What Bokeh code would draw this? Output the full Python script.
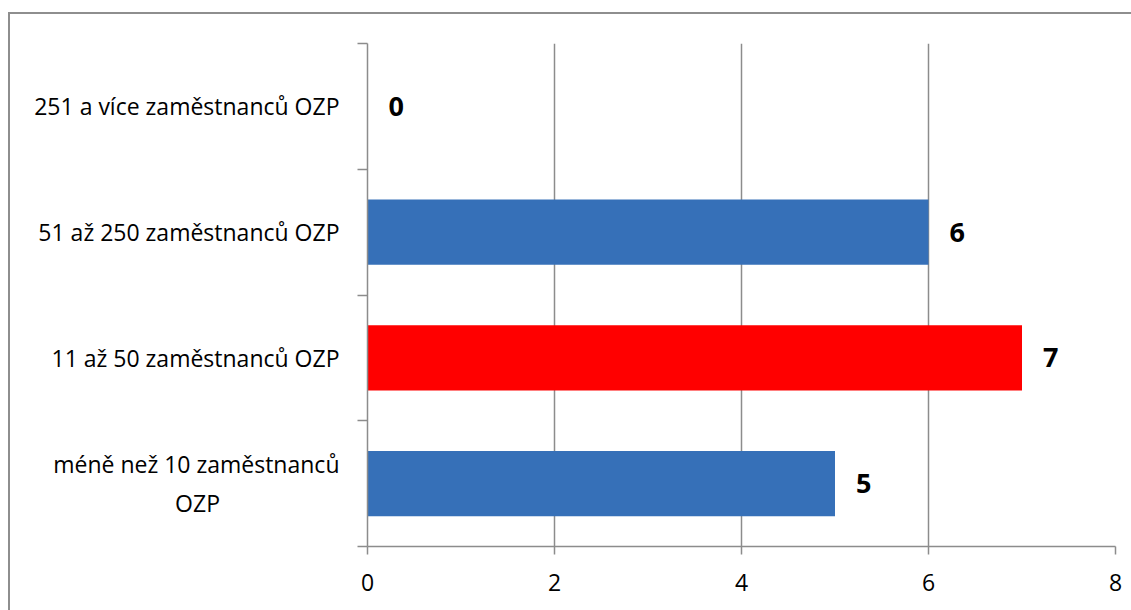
from bokeh.plotting import figure
from bokeh.models import ColumnDataSource, Range1d, FixedTicker, LabelSet
from bokeh.core.properties import value
from bokeh.embed import file_html
from bokeh.resources import INLINE

categories = ["méně než 10 zaměstnanců\nOZP", "11 až 50 zaměstnanců OZP",
              "51 až 250 zaměstnanců OZP", "251 a více zaměstnanců OZP"]
values = [5, 7, 6, 0]
bar_colors = ["#3670b8", "#ff0000", "#3670b8", "#3670b8"]
x_ticks = [0, 2, 4, 6, 8]

positions = [i + 0.5 for i in range(len(categories))]
boundaries = [float(i) for i in range(len(categories) + 1)]
src = ColumnDataSource(dict(y=positions, v=values, c=bar_colors,
                            lbl=[str(v) for v in values]))


def centered(label):
    # centre shorter lines of a multi-line label under the longest one
    lines = label.split("\n")
    longest = max(len(l) for l in lines)
    return "\n".join(l + "\u00a0" * int(round((longest - len(l)) * 1.02)) if len(l) < longest else l
                     for l in lines)


FONT = "Open Sans"
GRAY = "#8c8c8c"

p = figure(width=1131, height=610, x_range=Range1d(0, 8), y_range=Range1d(0, 4),
           output_backend="svg", toolbar_location=None,
           min_border_left=367, min_border_right=16, min_border_top=43,
           min_border_bottom=64)
p.styles = {"box-shadow": "inset 0 12px 0 0 #ffffff, inset 8px 0 0 0 #ffffff, "
                          "inset 0 14px 0 0 #8e8e8e, inset 10px 0 0 0 #8e8e8e"}
p.outline_line_color = None
p.background_fill_color = "white"
p.border_fill_color = None

p.hbar(y="y", right="v", left=0, height=0.52, fill_color="c", line_color=None, source=src)

labels = LabelSet(x="v", y="y", text="lbl", source=src, x_offset=21, text_align="left",
                  text_baseline="middle", text_font=value(FONT), text_font_size="27px",
                  text_font_style="bold", text_color="black")
p.add_layout(labels)

# x axis
p.xaxis.ticker = FixedTicker(ticks=x_ticks)
p.xaxis.axis_line_color = GRAY
p.xaxis.axis_line_width = 1.5
p.xaxis.major_tick_line_color = GRAY
p.xaxis.major_tick_line_width = 1.5
p.xaxis.major_tick_in = 0
p.xaxis.major_tick_out = 8
p.xaxis.minor_tick_line_color = None
p.xaxis.major_label_text_font = FONT
p.xaxis.major_label_text_font_size = "23px"
p.xaxis.major_label_text_color = "black"
p.xaxis.major_label_standoff = 19

# y axis: labels at category centres, ticks at category boundaries
p.yaxis.ticker = FixedTicker(ticks=positions, minor_ticks=boundaries)
p.yaxis.major_label_overrides = {pos: centered(cat) for pos, cat in zip(positions, categories)}
p.yaxis.axis_line_color = GRAY
p.yaxis.axis_line_width = 1.5
p.yaxis.major_tick_line_color = None
p.yaxis.minor_tick_line_color = GRAY
p.yaxis.minor_tick_line_width = 1.5
p.yaxis.minor_tick_in = 0
p.yaxis.minor_tick_out = 10
p.yaxis.major_label_text_font = FONT
p.yaxis.major_label_text_font_size = "23px"
p.yaxis.major_label_text_color = "black"
p.yaxis.major_label_standoff = 18

p.xgrid.ticker = FixedTicker(ticks=x_ticks)
p.xgrid.grid_line_color = GRAY
p.xgrid.grid_line_width = 1.5
p.ygrid.grid_line_color = None

open("out.html", "w").write(file_html(p, INLINE))
